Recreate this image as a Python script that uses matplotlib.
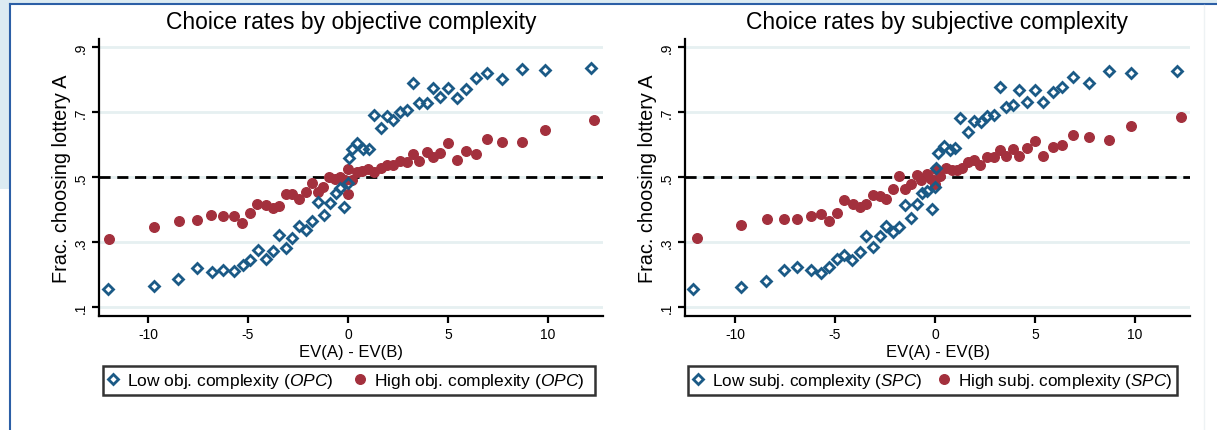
import matplotlib
matplotlib.use("Agg")
import matplotlib.pyplot as plt
from matplotlib.patches import Rectangle
from matplotlib.lines import Line2D

plt.rcParams['font.family'] = ['Liberation Sans', 'DejaVu Sans']
plt.rcParams['mathtext.fontset'] = 'custom'
plt.rcParams['mathtext.it'] = 'Liberation Sans:italic'
plt.rcParams['mathtext.rm'] = 'Liberation Sans'
plt.rcParams['axes.unicode_minus'] = False

# ---------------- data ----------------
titles = ["Choice rates by objective complexity", "Choice rates by subjective complexity"]
legend_low = ["Low obj. complexity ($\\it{OPC}$)", "Low subj. complexity ($\\it{SPC}$)"]
legend_high = ["High obj. complexity ($\\it{OPC}$)", "High subj. complexity ($\\it{SPC}$)"]
xlabel = "EV(A) - EV(B)"
ylabel = "Frac. choosing lottery A"
yticks = [0.1, 0.3, 0.5, 0.7, 0.9]
ytick_labels = [".1", ".3", ".5", ".7", ".9"]
xticks = [-10, -5, 0, 5, 10]

# objective complexity panel
opc_low_x = [-11.98, -9.68, -8.48, -7.57, -6.82, -6.23, -5.70, -5.27, -4.90, -4.52,
             -4.12, -3.77, -3.43, -3.10, -2.78, -2.45, -2.12, -1.82, -1.50, -1.18,
             -0.92, -0.62, -0.40, -0.20, 0.00, 0.05, 0.20, 0.47, 0.75, 1.03,
             1.28, 1.65, 1.95, 2.25, 2.62, 2.95, 3.27, 3.53, 3.93, 4.27,
             4.60, 5.00, 5.43, 5.90, 6.38, 6.93, 7.72, 8.70, 9.85, 12.15]
opc_low_y = [0.155, 0.166, 0.186, 0.219, 0.209, 0.214, 0.210, 0.229, 0.246, 0.276,
             0.248, 0.273, 0.322, 0.280, 0.311, 0.348, 0.336, 0.364, 0.422, 0.384,
             0.420, 0.452, 0.465, 0.409, 0.480, 0.557, 0.586, 0.605, 0.586, 0.586,
             0.691, 0.652, 0.687, 0.674, 0.701, 0.705, 0.788, 0.728, 0.728, 0.774,
             0.747, 0.774, 0.743, 0.771, 0.805, 0.819, 0.803, 0.832, 0.829, 0.834]
opc_high_x = [-11.95, -9.68, -8.45, -7.53, -6.87, -6.23, -5.70, -5.28, -4.90, -4.53,
              -4.12, -3.77, -3.43, -3.10, -2.78, -2.45, -2.12, -1.82, -1.52, -1.23,
              -0.93, -0.65, -0.40, -0.15, 0.02, 0.02, 0.22, 0.45, 0.70, 0.98,
              1.28, 1.65, 1.95, 2.25, 2.60, 2.95, 3.27, 3.53, 3.93, 4.23,
              4.60, 5.00, 5.43, 5.90, 6.38, 6.93, 7.72, 8.70, 9.85, 12.30]
opc_high_y = [0.309, 0.347, 0.365, 0.367, 0.384, 0.380, 0.379, 0.358, 0.388, 0.416,
              0.415, 0.405, 0.411, 0.448, 0.447, 0.432, 0.455, 0.483, 0.453, 0.468,
              0.500, 0.493, 0.500, 0.491, 0.525, 0.448, 0.492, 0.515, 0.517, 0.525,
              0.514, 0.528, 0.536, 0.536, 0.548, 0.545, 0.570, 0.550, 0.576, 0.561,
              0.574, 0.605, 0.552, 0.581, 0.571, 0.617, 0.609, 0.609, 0.646, 0.675]

# subjective complexity panel
spc_low_x = [-12.08, -9.72, -8.45, -7.53, -6.88, -6.22, -5.70, -5.28, -4.92, -4.55,
             -4.13, -3.75, -3.45, -3.12, -2.75, -2.45, -2.12, -1.82, -1.50, -1.22,
             -0.92, -0.63, -0.38, -0.15, 0.02, 0.03, 0.15, 0.47, 0.73, 1.00,
             1.27, 1.67, 1.97, 2.28, 2.62, 2.93, 3.23, 3.54, 3.88, 4.20,
             4.58, 5.00, 5.42, 5.92, 6.37, 6.92, 7.72, 8.68, 9.80, 12.08]
spc_low_y = [0.155, 0.163, 0.181, 0.215, 0.222, 0.213, 0.205, 0.224, 0.248, 0.260,
             0.245, 0.270, 0.317, 0.284, 0.317, 0.348, 0.330, 0.345, 0.413, 0.375,
             0.416, 0.451, 0.458, 0.403, 0.470, 0.528, 0.575, 0.595, 0.582, 0.590,
             0.680, 0.637, 0.671, 0.668, 0.689, 0.692, 0.777, 0.715, 0.720, 0.769,
             0.732, 0.768, 0.732, 0.760, 0.778, 0.809, 0.789, 0.826, 0.820, 0.826]
spc_high_x = [-11.88, -9.70, -8.42, -7.53, -6.88, -6.22, -5.70, -5.28, -4.88, -4.53,
              -4.12, -3.75, -3.45, -3.10, -2.75, -2.45, -2.12, -1.80, -1.52, -1.22,
              -0.90, -0.68, -0.40, -0.18, 0.00, 0.06, 0.25, 0.55, 0.83, 1.08,
              1.33, 1.67, 1.97, 2.27, 2.62, 2.93, 3.25, 3.53, 3.92, 4.22,
              4.58, 5.00, 5.42, 5.92, 6.37, 6.92, 7.72, 8.68, 9.80, 12.30]
spc_high_y = [0.312, 0.353, 0.370, 0.371, 0.370, 0.381, 0.386, 0.365, 0.388, 0.430,
              0.418, 0.409, 0.417, 0.445, 0.443, 0.431, 0.463, 0.502, 0.462, 0.478,
              0.506, 0.490, 0.508, 0.493, 0.477, 0.524, 0.503, 0.527, 0.522, 0.522,
              0.527, 0.547, 0.553, 0.538, 0.560, 0.561, 0.583, 0.564, 0.585, 0.566,
              0.589, 0.612, 0.566, 0.592, 0.597, 0.629, 0.624, 0.615, 0.656, 0.684]

panels = [
    (opc_low_x, opc_low_y, opc_high_x, opc_high_y),
    (spc_low_x, spc_low_y, spc_high_x, spc_high_y),
]

# ---------------- style ----------------
W, H = 1217, 431
BLUE = "#1b5a86"
RED = "#a3303d"
GRID = "#e6f0f1"

fig = plt.figure(figsize=(W / 100, H / 100), dpi=100)
fig.patch.set_facecolor("white")

def px_rect(x0, y0, x1, y1):
    return [x0 / W, 1 - y1 / H, (x1 - x0) / W, (y1 - y0) / H]

# outer page decoration
fig.patches.append(Rectangle((0, 1 - 4 / H), 1, 4 / H, transform=fig.transFigure,
                             facecolor="#dcebf2", edgecolor="none", zorder=0))
fig.patches.append(Rectangle((0, 1 - 190 / H), 9 / W, 190 / H, transform=fig.transFigure,
                             facecolor="#dcebf2", edgecolor="none", zorder=0))
fig.lines.append(Line2D([9.5 / W, 1], [1 - 4.5 / H, 1 - 4.5 / H], transform=fig.transFigure,
                        color="#2c5fa6", lw=1.5))
fig.lines.append(Line2D([9.5 / W, 9.5 / W], [0, 1 - 4.5 / H], transform=fig.transFigure,
                        color="#2c5fa6", lw=1.5))
fig.lines.append(Line2D([1204 / W, 1204 / W], [0, 1 - 6 / H], transform=fig.transFigure,
                        color="#eef2f4", lw=1.0))

axes_px = [(99, 40, 603, 317), (685, 40, 1190, 317)]
xlims = [(-12.45, 12.75), (-12.5, 12.75)]
legend_px = [(103, 367), (688, 367)]
col_spacing = [1.2, 1.0]
leg_fs = [12.5, 12.3]
leg_tail = ["  ", ""]

for i, (lx, ly, hx, hy) in enumerate(panels):
    ax = fig.add_axes(px_rect(*axes_px[i]))
    ax.set_xlim(*xlims[i])
    ax.set_ylim(0.0723, 0.9246)
    for y in yticks:
        ax.axhline(y, color=GRID, lw=2, zorder=0)
    ax.axhline(0.5, color="black", lw=2, ls=(0, (4, 2.4)), zorder=1)
    ax.plot(hx, hy, ls="none", marker="o", ms=6.9, color=RED, mec=RED, zorder=3)
    ax.plot(lx, ly, ls="none", marker="D", ms=5.3, mfc="none", mec=BLUE, mew=2.0, zorder=4)

    for s in ["top", "right"]:
        ax.spines[s].set_visible(False)
    for s in ["left", "bottom"]:
        ax.spines[s].set_linewidth(1.6)
    ax.set_yticks(yticks)
    ax.set_yticklabels(ytick_labels, rotation=90, va="center")
    ax.set_xticks(xticks)
    ax.tick_params(axis="both", direction="out", length=5, width=1.6, labelsize=10, pad=3)
    ax.set_xlabel(xlabel, fontsize=12, labelpad=2)
    ax.set_ylabel(ylabel, fontsize=14.3, labelpad=2)
    ax.set_title(titles[i], fontsize=16.5, pad=8)

    handles = [
        Line2D([], [], ls="none", marker="D", ms=5.3, mfc="none", mec=BLUE, mew=2.0),
        Line2D([], [], ls="none", marker="o", ms=6.9, color=RED),
    ]
    lx0, ly0 = legend_px[i]
    leg = fig.legend(handles, [legend_low[i], legend_high[i] + leg_tail[i]], ncol=2,
                     loc="upper left", bbox_to_anchor=(lx0 / W, 1 - ly0 / H),
                     fontsize=leg_fs[i], frameon=True, fancybox=False, handlelength=0.6,
                     handletextpad=0.5, columnspacing=col_spacing[i], borderpad=0.3,
                     borderaxespad=0)
    leg.get_frame().set_edgecolor("black")
    leg.get_frame().set_linewidth(1.8)

fig.savefig("out.png", dpi=100, facecolor=fig.get_facecolor())
